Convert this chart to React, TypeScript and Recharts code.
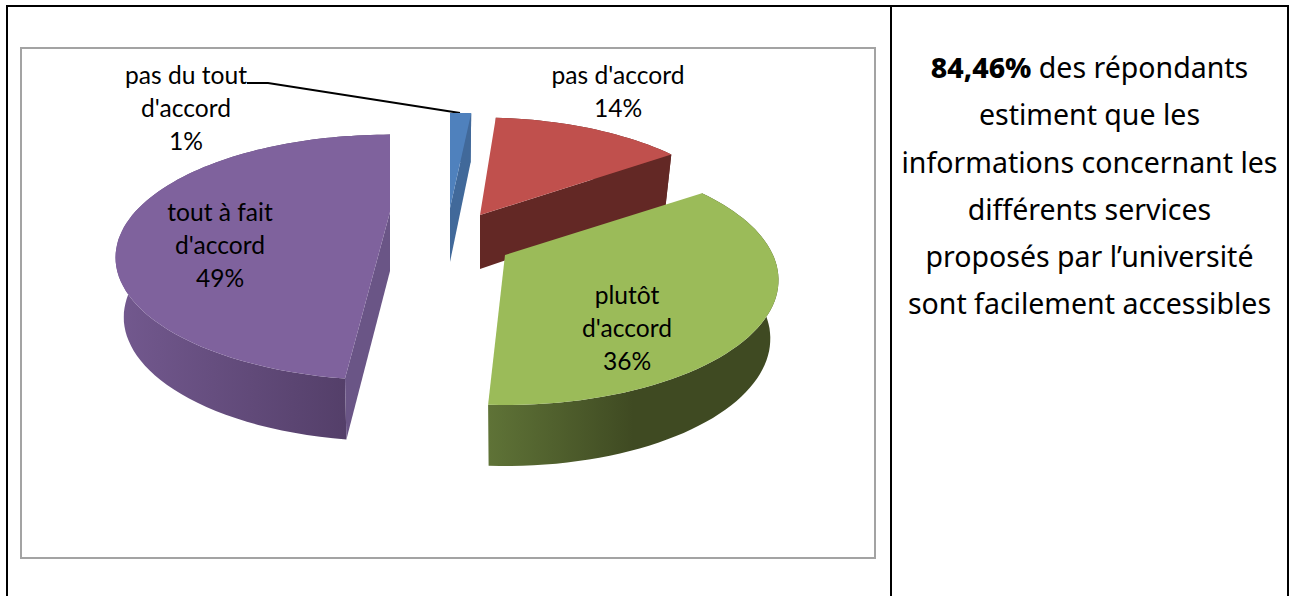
import { PieChart, Pie } from 'recharts';

const categories = ["pas du tout\nd'accord", "pas d'accord", "plutôt\nd'accord", "tout à fait\nd'accord"];
const values = [1, 14, 36, 49];
const topColors = ['#4f81bd', '#c0504d', '#9bbb59', '#7f629d'];
const faceColors = ['#41699a', '#632825', '#5c7033', '#6a5586'];
const wallStops = [
  ['#41699a', '#41699a'],
  ['#632825', '#632825'],
  ['#5f7337', '#3f4a22', '#3f4a22'],
  ['#73598f', '#4e3a62'],
];
const textLines = ['des répondants', 'estiment que les', 'informations concernant les', 'différents services', 'proposés par l’université', 'sont facilement accessibles'];

// hand-fitted 3d look of each exploded slice
const sliceLook = [
  { dx: 20, dy: -24, rx: 265, ry: 116, k: 0.22, from: 0, to: 2, d: 54, dk: 0.1 },
  { dx: 50, dy: -17, rx: 263, ry: 119, k: 0.22, from: 0.6, to: 1, d: 54, dk: 0.1 },
  { dx: 75, dy: 23, rx: 268, ry: 120, k: 0.2, from: 1, to: -0.7, d: 58, dk: 0.05 },
  { dx: -40, dy: -20, rx: 255, ry: 106, k: 0.37, from: 2.8, to: 0, d: 59, dk: 0.03 },
];
const labelCenters = [
  { x: 186, y: 78 },
  { x: 618, y: 78 },
  { x: 627, y: 298 },
  { x: 220, y: 215 },
];
const LABEL_FONT = 'Lato, sans-serif';
const leader = '247,83 268,83 460,113';

function project(s: any, cx: number, cy: number, deg: number, r: number) {
  const t = (deg * Math.PI) / 180;
  const u = Math.sin(t) * r;
  const v = Math.cos(t) * r;
  const w = 1 / (1 + s.k * v);
  const depth = s.d / (1 + s.dk * v);
  return { x: cx + s.dx + s.rx * u * w, y: cy + s.dy - s.ry * v * w, depth };
}

const toPath = (pts: any[]) => 'M' + pts.map((p) => `${p.x.toFixed(1)},${p.y.toFixed(1)}`).join('L') + 'Z';

function Slice3D(props: any) {
  const i = props.index;
  const s = sliceLook[i];
  // recharts angles are counter-clockwise from 3 o'clock
  const a0 = 90 - props.startAngle + s.from;
  const a1 = 90 - props.endAngle + s.to;
  const arc: any[] = [];
  const n = Math.max(2, Math.ceil((a1 - a0) / 2));
  for (let j = 0; j <= n; j++) arc.push(project(s, props.cx, props.cy, a0 + ((a1 - a0) * j) / n, 1));
  const apex = project(s, props.cx, props.cy, 0, 0);
  // the bottom of the slice is further away, so a bit narrower
  const down = (p: any) => ({ x: apex.x + (p.x - apex.x) * 0.97, y: p.y + p.depth });
  const stops = wallStops[i];
  const startVisible = Math.sin((a0 * Math.PI) / 180) < -0.001;
  const endVisible = Math.sin((a1 * Math.PI) / 180) > 0.001;
  const first = arc[0];
  const last = arc[arc.length - 1];
  return (
    <g>
      <defs>
        <linearGradient id={`wall${i}`} x1="0" y1="0" x2="1" y2="0">
          {stops.map((c, j) => (
            <stop key={j} offset={j / (stops.length - 1)} stopColor={c} />
          ))}
        </linearGradient>
      </defs>
      <path d={toPath([...arc, ...arc.map(down).reverse()])} fill={`url(#wall${i})`} />
      {startVisible && <path d={toPath([apex, first, down(first), down(apex)])} fill={faceColors[i]} />}
      {endVisible && <path d={toPath([apex, last, down(last), down(apex)])} fill={faceColors[i]} />}
      <path d={toPath([apex, ...arc])} fill={topColors[i]} />
    </g>
  );
}

function SliceLabel(props: any) {
  const i = props.index;
  const lines = [...categories[i].split('\n'), `${Math.round(props.percent * 100)}%`];
  return (
    <text x={labelCenters[i].x} y={labelCenters[i].y} textAnchor="middle" fontFamily={LABEL_FONT} fontSize={24.6} fill="#000">
      {lines.map((l, j) => (
        <tspan key={j} x={labelCenters[i].x} y={labelCenters[i].y + j * 33} dominantBaseline="middle">
          {l}
        </tspan>
      ))}
    </text>
  );
}

export default function App() {
  const data = categories.map((name, i) => ({ name, value: values[i] }));
  return (
    <div style={{ position: 'absolute', left: 0, top: 0, width: 1290, height: 596, overflow: 'hidden', background: '#fff' }}>
      <div style={{ position: 'absolute', left: 6, top: 5, width: 1282, height: 2, background: '#000' }} />
      <div style={{ position: 'absolute', left: 6, top: 5, width: 2, height: 591, background: '#000' }} />
      <div style={{ position: 'absolute', left: 890, top: 5, width: 2, height: 591, background: '#000' }} />
      <div style={{ position: 'absolute', left: 1287, top: 5, width: 2, height: 591, background: '#000' }} />
      <div style={{ position: 'absolute', left: 20, top: 47, width: 852, height: 508, border: '2px solid #a3a3a3' }} />
      <PieChart width={1290} height={596} margin={{ top: 0, right: 0, bottom: 0, left: 0 }} style={{ position: 'absolute', left: 0, top: 0 }}>
        <Pie
          data={data}
          dataKey="value"
          nameKey="name"
          cx={430}
          cy={232}
          outerRadius={265}
          startAngle={90}
          endAngle={-270}
          stroke="none"
          isAnimationActive={false}
          shape={Slice3D}
          label={SliceLabel}
          labelLine={false}
        />
        <polyline points={leader} fill="none" stroke="#000" strokeWidth={1.8} />
      </PieChart>
      <div style={{ position: 'absolute', left: 892, top: 44, width: 395, textAlign: 'center', fontFamily: '"Noto Sans", sans-serif', fontSize: 28.5, lineHeight: '47.3px', color: '#000' }}>
        {textLines.map((l, i) => (
          <div key={i}>
            {i === 0 && <b style={{ fontWeight: 800 }}>84,46% </b>}
            {l}
          </div>
        ))}
      </div>
    </div>
  );
}
